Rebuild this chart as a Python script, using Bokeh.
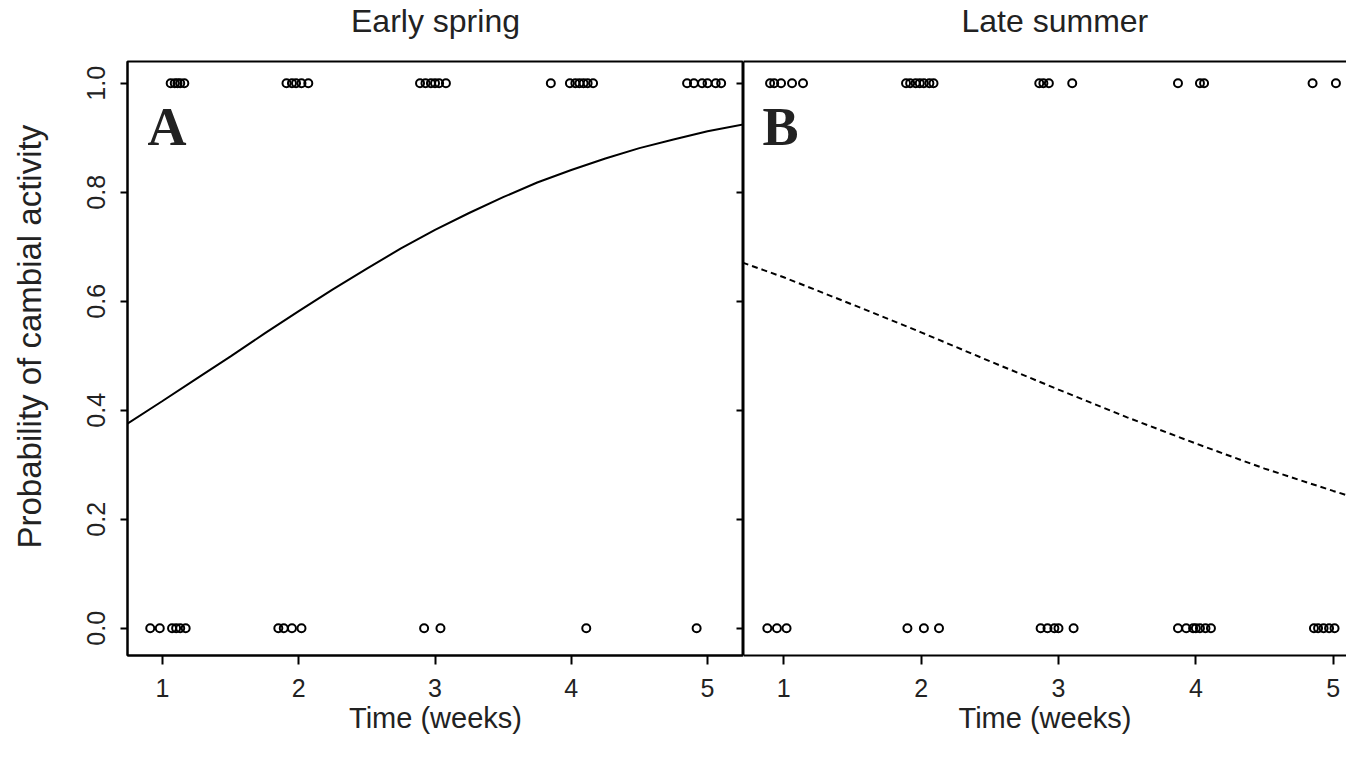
from bokeh.plotting import figure
from bokeh.models import Range1d, LinearAxis, FixedTicker, Label, PrintfTickFormatter, Title
from bokeh.layouts import row
from bokeh.embed import file_html
from bokeh.resources import INLINE

# ---------------- data ----------------
panel_titles = ["Early spring", "Late summer"]
panel_letters = ["A", "B"]
x_title = "Time (weeks)"
y_title = "Probability of cambial activity"
x_ticks = [1, 2, 3, 4, 5]
y_ticks = [0.0, 0.2, 0.4, 0.6, 0.8, 1.0]

# observed cambial activity (1 = active, 0 = inactive), time in weeks (jittered)
spring_time_active = [1.06, 1.09, 1.11, 1.13, 1.16,
                      1.91, 1.95, 1.98, 2.02, 2.07,
                      2.89, 2.93, 2.97, 3.00, 3.03, 3.08,
                      3.85, 3.99, 4.03, 4.06, 4.09, 4.12, 4.16,
                      4.85, 4.90, 4.96, 5.00, 5.06, 5.10]
spring_time_inactive = [0.91, 0.98, 1.07, 1.10, 1.13, 1.17,
                        1.85, 1.89, 1.95, 2.02,
                        2.92, 3.04,
                        4.11,
                        4.92]
summer_time_active = [0.90, 0.93, 0.98, 1.06, 1.14,
                      1.89, 1.92, 1.96, 1.99, 2.02, 2.06, 2.09,
                      2.86, 2.89, 2.93, 3.10,
                      3.87, 4.03, 4.06,
                      4.85, 5.02]
summer_time_inactive = [0.88, 0.95, 1.02,
                        1.90, 2.02, 2.13,
                        2.87, 2.92, 2.97, 3.00, 3.11,
                        3.87, 3.93, 3.98, 4.00, 4.03, 4.07, 4.11,
                        4.86, 4.89, 4.93, 4.97, 5.01]

# fitted probability curves
spring_curve_x = [0.74, 1.0, 1.25, 1.5, 1.75, 2.0, 2.25, 2.5, 2.75, 3.0, 3.25,
                  3.5, 3.75, 4.0, 4.25, 4.5, 4.75, 5.0, 5.27]
spring_curve_p = [0.375, 0.417, 0.458, 0.499, 0.541, 0.582, 0.622, 0.660, 0.697,
                  0.731, 0.762, 0.791, 0.818, 0.841, 0.862, 0.881, 0.897, 0.912, 0.925]
summer_curve_x = [0.70, 1.0, 1.5, 2.0, 2.5, 3.0, 3.5, 4.0, 4.5, 5.0, 5.24]
summer_curve_p = [0.671, 0.644, 0.594, 0.543, 0.490, 0.438, 0.387, 0.339, 0.293,
                  0.252, 0.233]

FONT = "Liberation Sans"
SERIF = "Liberation Serif"
INK = "#222222"
Y_RANGE = (-0.05, 1.04)
TOP = 61
BOTTOM = 95


def style_bottom_axis(ax):
    ax.ticker = FixedTicker(ticks=x_ticks)
    ax.formatter = PrintfTickFormatter(format="%d")
    ax.major_tick_out = 9
    ax.major_tick_in = 0
    ax.minor_tick_line_color = None
    ax.axis_line_width = 2
    ax.major_tick_line_width = 2
    ax.major_label_text_font = FONT
    ax.major_label_text_font_size = "25px"
    ax.major_label_text_color = INK
    ax.major_label_standoff = 14
    ax.axis_label = x_title
    ax.axis_label_text_font = FONT
    ax.axis_label_text_font_style = "normal"
    ax.axis_label_text_font_size = "29px"
    ax.axis_label_text_color = INK
    ax.axis_label_standoff = 2


def hide_labels(ax):
    ax.major_label_text_font_size = "0px"
    ax.major_label_text_color = None
    ax.major_label_standoff = 0


def spacer_axis(ticks, extent, show_line):
    """Axis that draws at most its line; its invisible ticks reserve space."""
    ax = LinearAxis(ticker=FixedTicker(ticks=ticks))
    ax.major_tick_line_color = None
    ax.minor_tick_line_color = None
    ax.major_tick_out = extent
    ax.major_tick_in = 0
    ax.minor_tick_out = 0
    hide_labels(ax)
    ax.axis_line_width = 2
    if not show_line:
        ax.axis_line_color = None
    return ax


def add_points(p, xs_active, xs_inactive):
    p.scatter(xs_active, [1.0] * len(xs_active), marker="circle", size=8,
              fill_color=None, line_color="black", line_width=2)
    p.scatter(xs_inactive, [0.0] * len(xs_inactive), marker="circle", size=8,
              fill_color=None, line_color="black", line_width=2)


def panel_title(text, align, offset):
    return Title(text=text, align=align, offset=offset, text_font=FONT,
                 text_font_style="normal", text_font_size="32px",
                 text_color=INK, standoff=0, vertical_align="bottom")


# ---------------- panel A ----------------
p1 = figure(frame_width=616, frame_height=594,
            x_range=Range1d(0.7431, 5.264), y_range=Range1d(*Y_RANGE),
            output_backend="svg", toolbar_location=None,
            min_border_left=127, min_border_right=0,
            min_border_top=TOP, min_border_bottom=BOTTOM)
bottom1 = p1.below[0]
left1 = p1.left[0]
p1.grid.visible = False
p1.outline_line_color = "black"
p1.outline_line_width = 2
style_bottom_axis(bottom1)

left1.ticker = FixedTicker(ticks=y_ticks)
left1.formatter = PrintfTickFormatter(format="%.1f")
left1.major_tick_out = 7
left1.major_tick_in = 0
left1.minor_tick_line_color = None
left1.axis_line_width = 2
left1.major_tick_line_width = 2
left1.major_label_orientation = "vertical"
left1.major_label_text_font = FONT
left1.major_label_text_font_size = "25px"
left1.major_label_text_color = INK
left1.major_label_standoff = 15

p1.add_layout(spacer_axis(x_ticks, 23, False), "above")
p1.add_layout(panel_title(panel_titles[0], "center", 0), "above")

# y-axis title placed along the left side (slightly above the frame centre)
p1.add_layout(spacer_axis(y_ticks, 37, False), "left")
p1.add_layout(Title(text=y_title, align="left", offset=107, text_font=FONT,
                    text_font_style="normal", text_font_size="33px",
                    text_color=INK, standoff=0, vertical_align="bottom"), "left")

# ticks between the panels (panel B's y-axis ticks, pointing into panel A)
mid_axis = LinearAxis(ticker=FixedTicker(ticks=y_ticks))
mid_axis.major_tick_in = 7
mid_axis.major_tick_out = 0
mid_axis.major_tick_line_width = 2
mid_axis.minor_tick_line_color = None
hide_labels(mid_axis)
mid_axis.axis_line_width = 2
p1.add_layout(mid_axis, "right")

add_points(p1, spring_time_active, spring_time_inactive)
p1.line(spring_curve_x, spring_curve_p, line_color="black", line_width=2)

p1.add_layout(Label(x=0.89, y=0.92, text=panel_letters[0], text_align="left",
                    text_baseline="alphabetic", text_font=SERIF, text_font_style="bold",
                    text_font_size="54px", text_color=INK))

# ---------------- panel B ----------------
p2 = figure(frame_width=603, frame_height=594,
            x_range=Range1d(0.7066, 5.097), y_range=Range1d(*Y_RANGE),
            output_backend="svg", toolbar_location=None,
            min_border_left=0, min_border_right=0,
            min_border_top=TOP, min_border_bottom=BOTTOM)
bottom2 = p2.below[0]
left2 = p2.left[0]
p2.grid.visible = False
p2.outline_line_color = None
style_bottom_axis(bottom2)

left2.ticker = FixedTicker(ticks=y_ticks)
left2.major_tick_line_color = None
left2.minor_tick_line_color = None
left2.major_tick_out = 0
left2.major_tick_in = 0
hide_labels(left2)
left2.axis_line_width = 2

p2.add_layout(spacer_axis(x_ticks, 23, True), "above")
p2.add_layout(panel_title(panel_titles[1], "left", 218), "above")

add_points(p2, summer_time_active, summer_time_inactive)
p2.line(summer_curve_x, summer_curve_p, line_color="black", line_width=2,
        line_dash="6 4")

p2.add_layout(Label(x=0.845, y=0.92, text=panel_letters[1], text_align="left",
                    text_baseline="alphabetic", text_font=SERIF, text_font_style="bold",
                    text_font_size="54px", text_color=INK))

layout = row(p1, p2)
open("out.html", "w").write(file_html(layout, INLINE))
